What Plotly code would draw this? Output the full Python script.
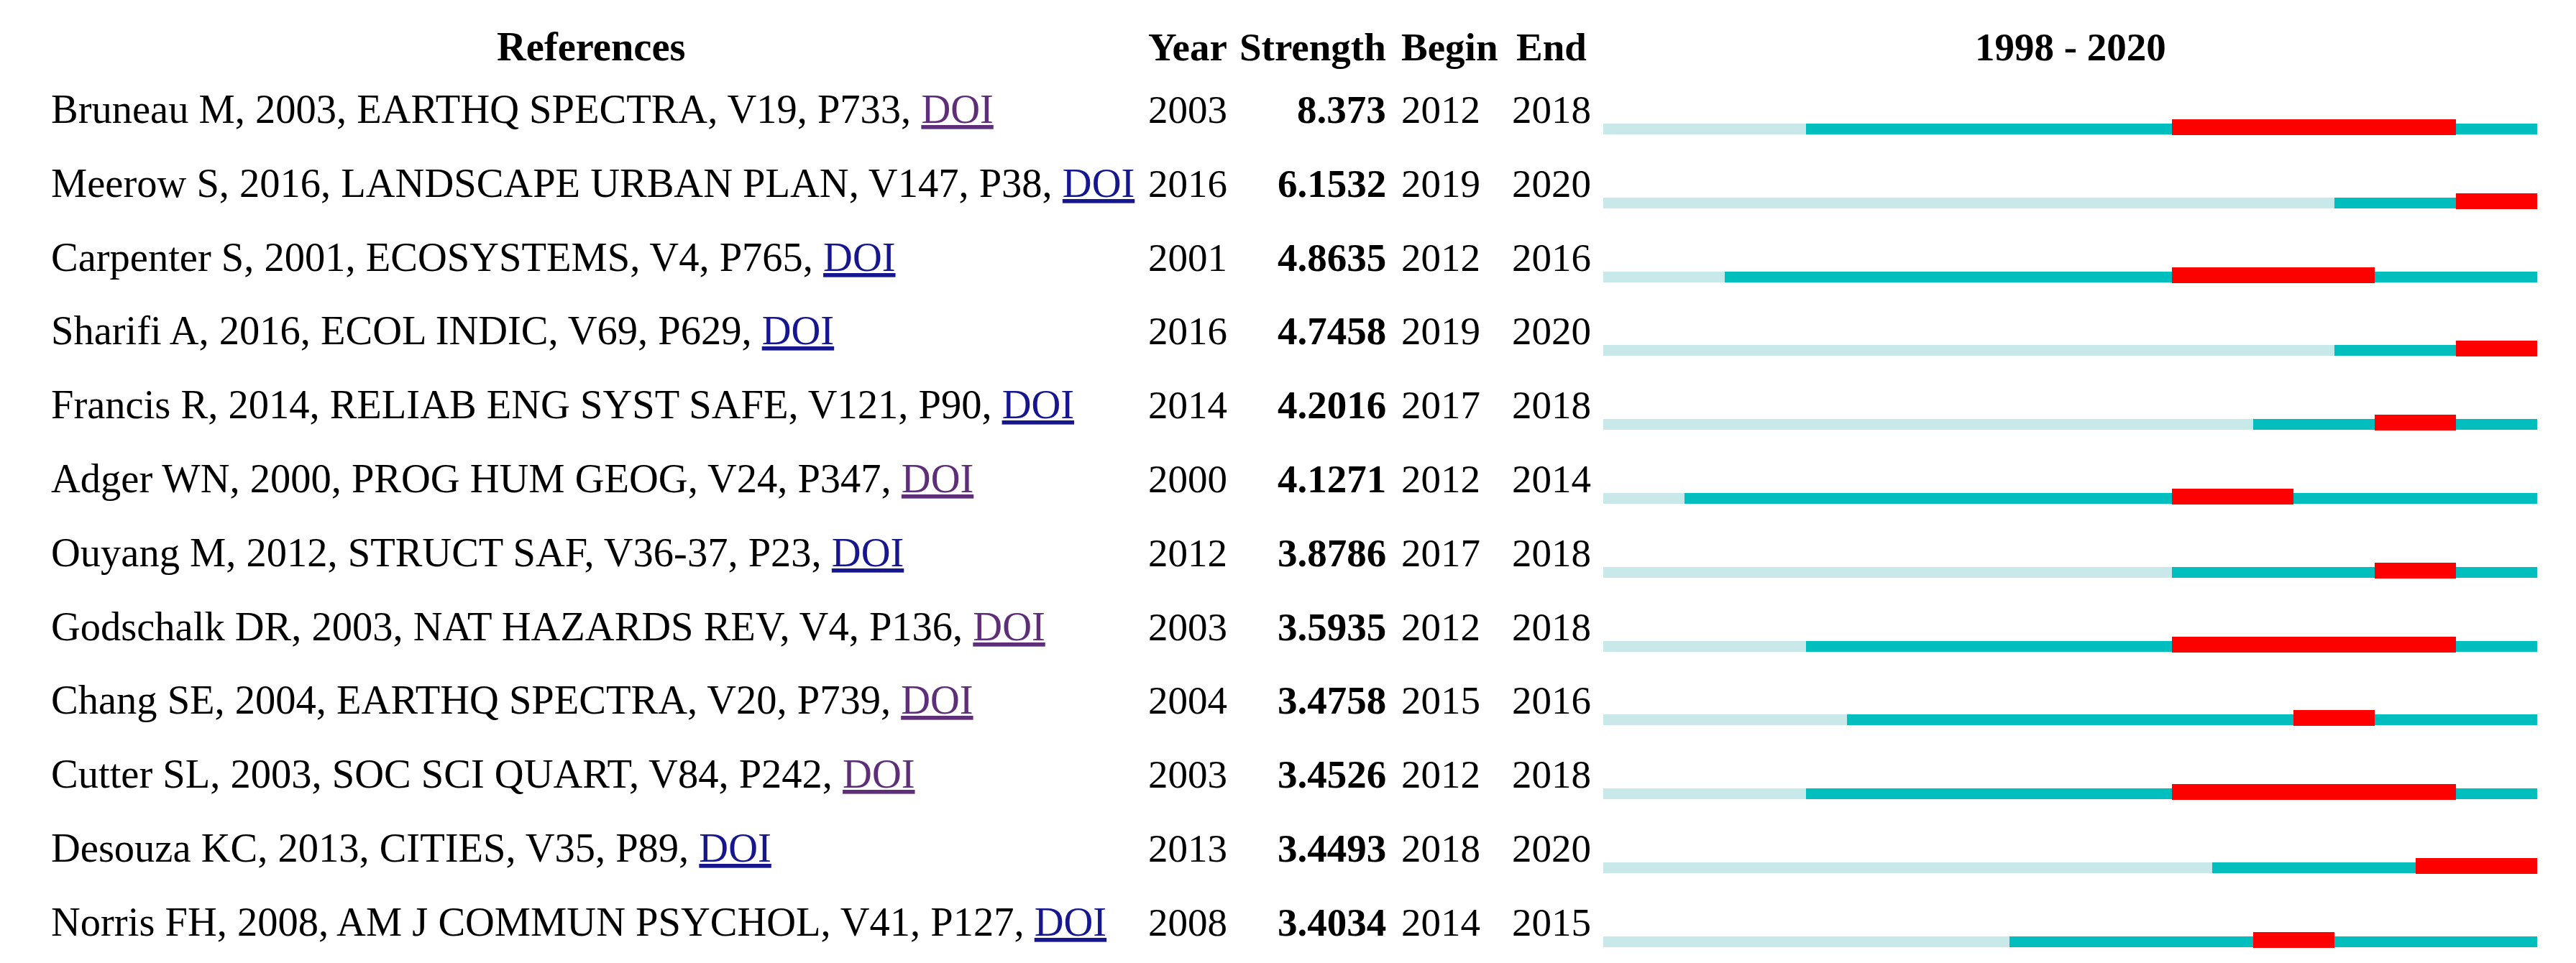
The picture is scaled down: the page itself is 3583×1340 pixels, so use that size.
import plotly.graph_objects as go

# ---------------- data ----------------
references = [
    "Bruneau M, 2003, EARTHQ SPECTRA, V19, P733,",
    "Meerow S, 2016, LANDSCAPE URBAN PLAN, V147, P38,",
    "Carpenter S, 2001, ECOSYSTEMS, V4, P765,",
    "Sharifi A, 2016, ECOL INDIC, V69, P629,",
    "Francis R, 2014, RELIAB ENG SYST SAFE, V121, P90,",
    "Adger WN, 2000, PROG HUM GEOG, V24, P347,",
    "Ouyang M, 2012, STRUCT SAF, V36-37, P23,",
    "Godschalk DR, 2003, NAT HAZARDS REV, V4, P136,",
    "Chang SE, 2004, EARTHQ SPECTRA, V20, P739,",
    "Cutter SL, 2003, SOC SCI QUART, V84, P242,",
    "Desouza KC, 2013, CITIES, V35, P89,",
    "Norris FH, 2008, AM J COMMUN PSYCHOL, V41, P127,",
]
doi_visited = [True, False, False, False, False, True, False, True, True, True, False, False]
pub_years = [2003, 2016, 2001, 2016, 2014, 2000, 2012, 2003, 2004, 2003, 2013, 2008]
strengths = [8.373, 6.1532, 4.8635, 4.7458, 4.2016, 4.1271, 3.8786, 3.5935, 3.4758, 3.4526, 3.4493, 3.4034]
begins = [2012, 2019, 2012, 2019, 2017, 2012, 2017, 2012, 2015, 2012, 2018, 2014]
ends = [2018, 2020, 2016, 2020, 2018, 2014, 2018, 2018, 2016, 2018, 2020, 2015]
span_start, span_end = 1998, 2020
headers = ["References", "Year", "Strength", "Begin", "End", f"{span_start} - {span_end}"]

# ---------------- layout constants ----------------
W, H = 3583, 1340
ROW0 = 171.0      # baseline of first row (px)
PITCH = 102.8     # row pitch (px)
HEAD_BASE = 84.0  # header baseline (px)
FS = 55
FS_REF = 56.5
FONT = "Liberation Serif, Times New Roman, serif"

LIGHT = "#C9E8EA"
TEAL = "#00BEBE"
RED = "#FF0000"
VISITED = "#5E2E78"
LINK = "#16168F"

n = len(references)
rows = list(range(n))

fig = go.Figure()

end_excl = span_end + 1
fig.add_trace(go.Bar(
    y=rows, base=[span_start] * n, x=[p - span_start for p in pub_years],
    orientation="h", xaxis="x2", yaxis="y", marker=dict(color=LIGHT, line=dict(width=0)),
    width=15 / PITCH, offset=1 / PITCH, hoverinfo="skip", showlegend=False))
fig.add_trace(go.Bar(
    y=rows, base=pub_years, x=[end_excl - p for p in pub_years],
    orientation="h", xaxis="x2", yaxis="y", marker=dict(color=TEAL, line=dict(width=0)),
    width=15 / PITCH, offset=1 / PITCH, hoverinfo="skip", showlegend=False))
fig.add_trace(go.Bar(
    y=rows, base=begins, x=[e + 1 - b for b, e in zip(begins, ends)],
    orientation="h", xaxis="x2", yaxis="y", marker=dict(color=RED, line=dict(width=0)),
    width=22 / PITCH, offset=-5 / PITCH, hoverinfo="skip", showlegend=False))

ann = []
def add(text, x, base_px, xanchor, bold=False, size=FS, color="#000000"):
    t = f"<b>{text}</b>" if bold else text
    y = (base_px - 0.3375 * size - ROW0) / PITCH
    ann.append(dict(text=t, x=x, y=y, xref="x", yref="y", xanchor=xanchor, yanchor="middle",
                    showarrow=False, font=dict(family=FONT, size=size, color=color), borderpad=0))

add(headers[0], 822, HEAD_BASE, "center", bold=True, size=FS_REF)
add(headers[1], 1596, HEAD_BASE, "left", bold=True)
add(headers[2], 1929, HEAD_BASE, "right", bold=True)
add(headers[3], 1948, HEAD_BASE, "left", bold=True)
add(headers[4], 2158, HEAD_BASE, "center", bold=True)
add(headers[5], 2880, HEAD_BASE, "center", bold=True)

for i in rows:
    base = ROW0 + i * PITCH
    col = VISITED if doi_visited[i] else LINK
    add(f"{references[i]} <span style='color:{col}'><u>DOI</u></span>", 70, base, "left", size=FS_REF)
    add(str(pub_years[i]), 1596, base, "left")
    add(str(strengths[i]), 1929, base, "right", bold=True)
    add(str(begins[i]), 1948, base, "left")
    add(str(ends[i]), 2158, base, "center")

fig.update_layout(
    width=W, height=H, margin=dict(l=0, r=0, t=0, b=0, pad=0),
    paper_bgcolor="white", plot_bgcolor="white",
    barmode="overlay", bargap=0, annotations=ann,
    xaxis=dict(range=[0, W], domain=[0, 1], visible=False, fixedrange=True),
    xaxis2=dict(range=[span_start, end_excl], domain=[2230 / W, 3529 / W], anchor="y",
                visible=False, fixedrange=True),
    yaxis=dict(range=[(H - ROW0) / PITCH, -ROW0 / PITCH], domain=[0, 1], visible=False,
               fixedrange=True),
    showlegend=False,
)

fig.write_html("out.html", config={"displayModeBar": False, "staticPlot": True},
               post_script="document.body.style.margin='0';document.body.style.overflow='hidden';")
